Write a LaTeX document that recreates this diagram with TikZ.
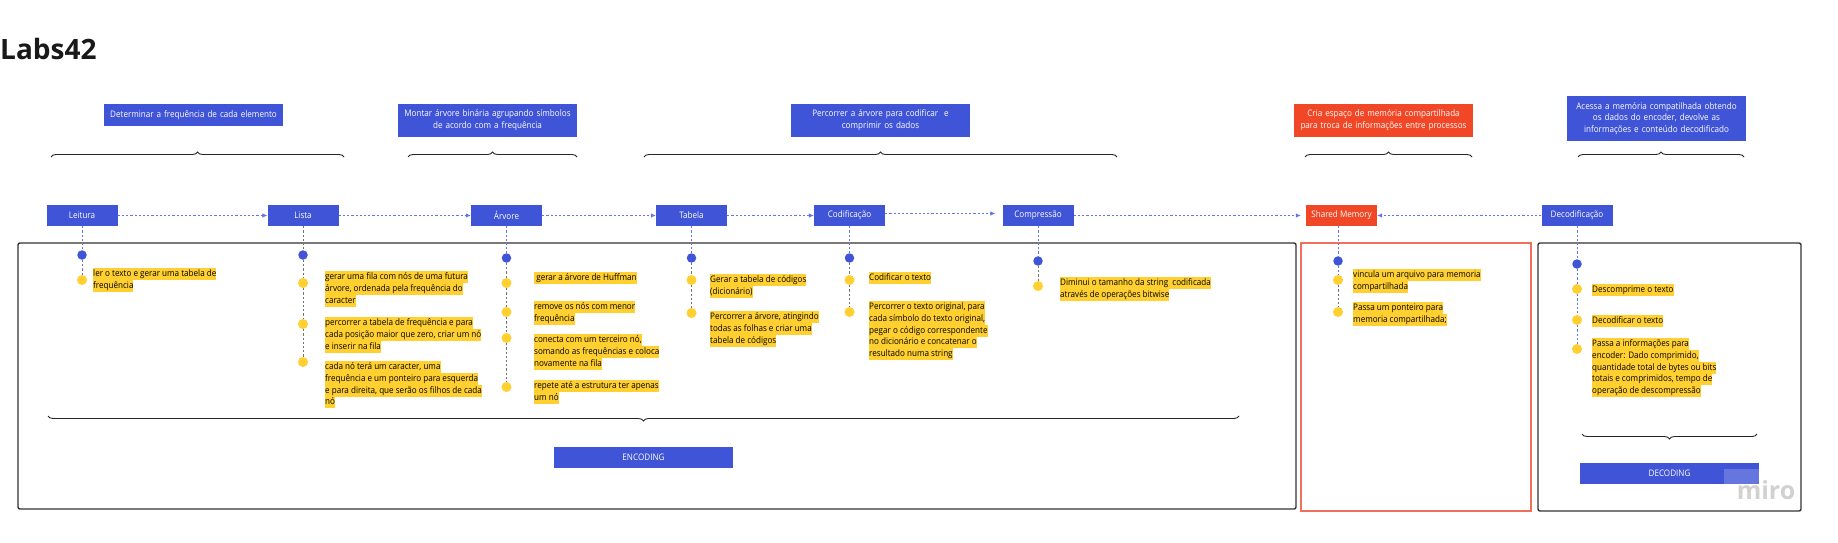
\documentclass[tikz,border=0pt]{standalone}
\usepackage{fontspec}
\setmainfont{Open Sans}
\newfontfamily\mirofont{Open Sans}[FakeStretch=0.9]
\usetikzlibrary{arrows.meta, decorations.pathreplacing}
\definecolor{miroblue}{RGB}{64,84,216}
\definecolor{mirored}{RGB}{242,71,38}
\definecolor{miroyellow}{RGB}{255,208,47}
\definecolor{dashblue}{RGB}{100,118,230}
\definecolor{framered}{RGB}{240,112,92}
\newcommand{\yel}[1]{{\setlength{\fboxsep}{0pt}\colorbox{miroyellow}{\strut#1}}}
\tikzset{>={Latex[length=5pt, width=4.5pt]},
  txt/.style={font=\mirofont\fontsize{9}{11.8}\selectfont},
  stage/.style={txt, fill=miroblue, text=white, minimum width=71pt, minimum height=21pt, inner sep=0pt},
  topbox/.style={txt, fill=miroblue, text=white, text width=169pt, inner xsep=5pt, inner ysep=0pt,
    align=center, minimum height=22pt},
  note/.style={txt, inner sep=0pt, align=left, anchor=north west},
  bdot/.style={circle, fill=miroblue, inner sep=0pt, minimum size=9.5pt},
  ydot/.style={circle, fill=miroyellow, inner sep=0pt, minimum size=10pt},
  flow/.style={->, dashblue, line width=0.75pt, dash pattern=on 2.2pt off 2pt},
  tlblue/.style={dashblue, line width=0.75pt, dash pattern=on 2.2pt off 2pt},
  tlgray/.style={black!55, line width=0.75pt, dash pattern=on 2.2pt off 2pt},
  brc/.style={decorate, decoration={brace, amplitude=5pt}, line width=0.9pt, black!85},
  frame/.style={line width=1.4pt, black!80, rounded corners=2pt}
}
\begin{document}
\begin{tikzpicture}[x=1pt, y=-1pt]
\useasboundingbox (0,0) rectangle (1838,543);

\node[anchor=west, inner sep=0pt, font=\fontsize{28}{30}\selectfont\bfseries, text=black!90] (title) at (0,49) {Labs42};

% goals
\node[topbox] (g1) at (193.5,115) {Determinar a frequência de cada elemento};
\node[topbox, minimum height=33pt] (g2) at (487.5,120.5) {Montar árvore binária agrupando símbolos\\de acordo com a frequência};
\node[topbox, minimum height=33pt] (g3) at (880.5,120.5) {Percorrer a árvore para codificar~ e\\comprimir os dados};
\node[topbox, minimum height=33pt, fill=mirored] (g4) at (1383.5,120.5) {Cria espaço de memória compartilhada\\para troca de informações entre processos};
\node[topbox, minimum height=45pt] (g5) at (1656.5,118.5) {Acessa a memória compatilhada obtendo\\os dados do encoder, devolve as\\informações e conteúdo decodificado};

\draw[brc] (51,157) -- (344,157);
\draw[brc] (408,157) -- (577,157);
\draw[brc] (644,157) -- (1117,157);
\draw[brc] (1305,157) -- (1472,157);
\draw[brc] (1578,157) -- (1744,157);

% containers
\draw[frame] (18,243) rectangle (1296,509);
\draw[frame, framered, line width=1.2pt, rounded corners=0pt] (1301,243) rectangle (1531,511);
\draw[frame] (1538,243) rectangle (1801,511);

% stages
\node[stage] (leitura) at (82,215.5) {Leitura};
\node[stage] (lista) at (303,215.5) {Lista};
\node[stage] (arvore) at (506.5,215.5) {Árvore};
\node[stage] (tabela) at (691.5,215.5) {Tabela};
\node[stage] (codif) at (849.5,215.5) {Codificação};
\node[stage] (compr) at (1038,215.5) {Compressão};
\node[stage, fill=mirored] (shmem) at (1341.5,215.5) {Shared Memory};
\node[stage] (decod) at (1577,215.5) {Decodificação};

\draw[flow] (leitura) -- (lista);
\draw[flow] (lista) -- (arvore);
\draw[flow] (arvore) -- (tabela);
\draw[flow] (tabela) -- (codif);
\draw[flow, shorten >=7pt] ([yshift=2pt]codif.east) -- ([yshift=2pt]compr.west);
\draw[flow, shorten >=5pt] (compr) -- (shmem);
\draw[flow] (decod) -- (shmem);

% Leitura
\node[bdot] (l0) at (82,255) {};
\node[ydot] (l1) at (82,280) {};
\draw[tlblue] (leitura) -- (l0);
\draw[tlblue] (l0) -- (l1);
\node[note] (l1t) at (93,268) {\yel{ler o texto e gerar uma tabela de}\\\yel{frequência}};

% Lista
\node[bdot] (s0) at (303,255) {};
\node[ydot] (s1) at (303,283) {};
\node[ydot] (s2) at (303,324) {};
\node[ydot] (s3) at (303,362) {};
\draw[tlgray] (lista) -- (s0);
\draw[tlgray] (s0) -- (s1) -- (s2) -- (s3);
\node[note] (s1t) at (325,271) {\yel{gerar uma fila com nós de uma futura}\\\yel{árvore, ordenada pela frequência do}\\\yel{caracter}};
\node[note] (s2t) at (325,317) {\yel{percorrer a tabela de frequência e para}\\\yel{cada posição maior que zero, criar um nó}\\\yel{e inserir na fila}};
\node[note] (s3t) at (325,361) {\yel{cada nó terá um caracter, uma}\\\yel{frequência e um ponteiro para esquerda}\\\yel{e para direita, que serão os filhos de cada}\\\yel{nó}};

% Arvore
\node[bdot] (a0) at (506.5,258) {};
\node[ydot] (a1) at (506.5,283) {};
\node[ydot] (a2) at (506.5,312) {};
\node[ydot] (a3) at (506.5,338) {};
\node[ydot] (a4) at (506.5,387) {};
\draw[tlblue] (arvore) -- (a0);
\draw[tlgray] (a0) -- (a1) -- (a2) -- (a3) -- (a4);
\node[note] (a1t) at (534,272) {\yel{~gerar a árvore de Huffman}};
\node[note] (a2t) at (534,301) {\yel{remove os nós com menor}\\\yel{frequência}};
\node[note] (a3t) at (534,334) {\yel{conecta com um terceiro nó,}\\\yel{somando as frequências e coloca}\\\yel{novamente na fila}};
\node[note] (a4t) at (534,380) {\yel{repete até a estrutura ter apenas}\\\yel{um nó}};

% Tabela
\node[bdot] (t0) at (691.5,258) {};
\node[ydot] (t1) at (691.5,280) {};
\node[ydot] (t2) at (691.5,313) {};
\draw[tlblue] (tabela) -- (t0);
\draw[tlgray] (t0) -- (t1) -- (t2);
\node[note] (t1t) at (710,274) {\yel{Gerar a tabela de códigos}\\\yel{(dicionário)}};
\node[note] (t2t) at (710,311) {\yel{Percorrer a árvore, atingindo}\\\yel{todas as folhas e criar uma}\\\yel{tabela de códigos}};

% Codificacao
\node[bdot] (c0) at (849.5,258) {};
\node[ydot] (c1) at (849.5,280) {};
\node[ydot] (c2) at (849.5,312) {};
\draw[tlblue] (codif) -- (c0);
\draw[tlgray] (c0) -- (c1) -- (c2);
\node[note] (c1t) at (869,272) {\yel{Codificar o texto}};
\node[note] (c2t) at (869,301) {\yel{Percorrer o texto original, para}\\\yel{cada símbolo do texto original,}\\\yel{pegar o código correspondente}\\\yel{no dicionário e concatenar o}\\\yel{resultado numa string}};

% Compressao
\node[bdot] (p0) at (1038,261) {};
\node[ydot] (p1) at (1038,286) {};
\draw[tlblue] (compr) -- (p0);
\draw[tlgray] (p0) -- (p1);
\node[note] (p1t) at (1060,277) {\yel{Diminui o tamanho da string~ codificada}\\\yel{através de operações bitwise}};

% Shared Memory
\node[bdot] (m0) at (1338,261) {};
\node[ydot] (m1) at (1338,280) {};
\node[ydot] (m2) at (1338,312) {};
\draw[tlblue] (shmem.south -| m0) -- (m0);
\draw[tlblue] (m0) -- (m1);
\draw[tlgray] (m1) -- (m2);
\node[note] (m1t) at (1353,269) {\yel{vincula um arquivo para memoria}\\\yel{compartilhada}};
\node[note] (m2t) at (1353,302) {\yel{Passa um ponteiro para}\\\yel{memoria compartilhada;}};

% Decodificacao
\node[bdot] (d0) at (1577,264) {};
\node[ydot] (d1) at (1577,289) {};
\node[ydot] (d2) at (1577,320) {};
\node[ydot] (d3) at (1577,349) {};
\draw[tlblue] (decod) -- (d0);
\draw[tlblue] (d0) -- (d1) -- (d2) -- (d3);
\node[note] (d1t) at (1592,284) {\yel{Descomprime o texto}};
\node[note] (d2t) at (1592,315) {\yel{Decodificar o texto}};
\node[note] (d3t) at (1592,338) {\yel{Passa a informações para}\\\yel{encoder: Dado comprimido,}\\\yel{quantidade total de bytes ou bits}\\\yel{totais e comprimidos, tempo de}\\\yel{operação de descompressão}};

% bottom
\draw[brc] (1239,416) -- (48,416);
\draw[brc] (1757,434) -- (1582,434);
\node[stage, minimum width=179pt] (enc) at (643.5,457.5) {ENCODING};
\node[stage, minimum width=179pt] (dec) at (1669.5,473.5) {DECODING};
\fill[white, opacity=0.2] (1724,469) rectangle (1759,484);
\node[inner sep=0pt, font=\fontsize{25}{25}\selectfont\bfseries, text=black!18] (wm) at (1766,490) {miro};
\end{tikzpicture}
\end{document}
